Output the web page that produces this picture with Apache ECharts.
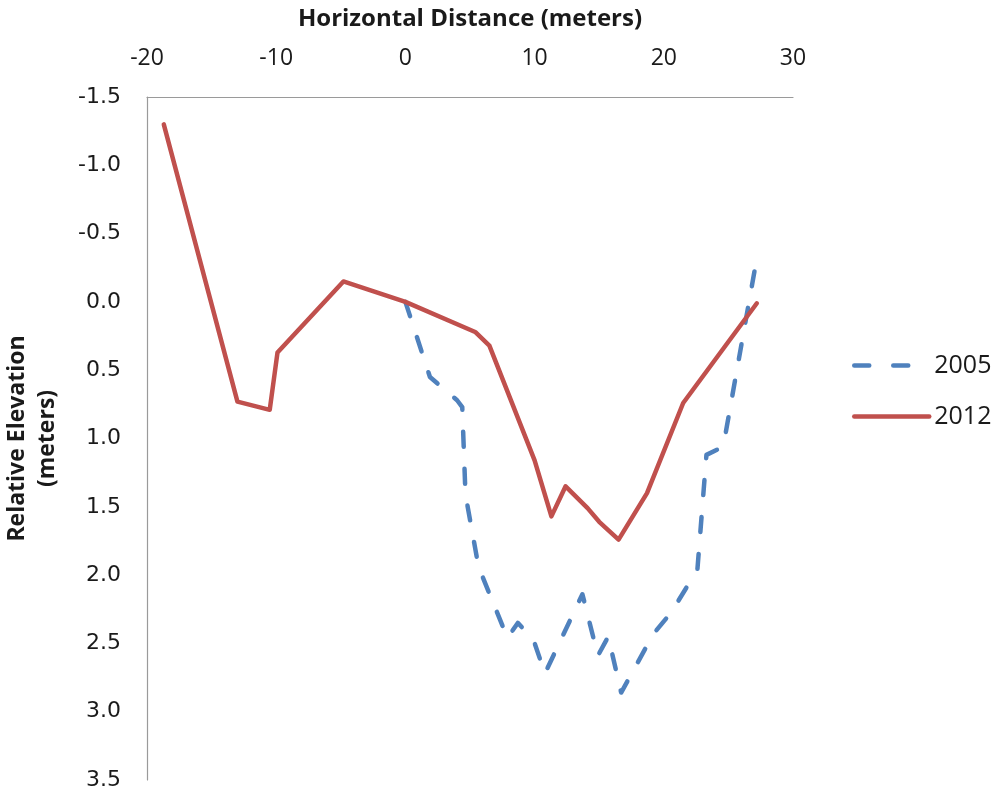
<!DOCTYPE html>
<html>
<head>
<meta charset="utf-8">
<script src="https://cdn.jsdelivr.net/npm/echarts@6/dist/echarts.min.js"></script>
<style>
  html, body { margin: 0; padding: 0; background: #fff; }
  #chart { width: 996px; height: 804px; }
</style>
</head>
<body>
<div id="chart"></div>
<script>
// Cross-section profile: horizontal distance vs relative elevation
const xTicks = [-20, -10, 0, 10, 20, 30];
const yTicks = [-1.5, -1.0, -0.5, 0.0, 0.5, 1.0, 1.5, 2.0, 2.5, 3.0, 3.5];

const dist2005 = [0, 1.9, 4.0, 4.4, 4.65, 5.66, 7.9, 8.7, 9.9, 10.8, 13.7, 14.9, 15.7, 16.7, 19.2, 20.6, 22.6, 23.3, 24.6, 27.2];
const elev2005 = [0, 0.55, 0.72, 0.77, 1.41, 1.94, 2.46, 2.35, 2.47, 2.72, 2.14, 2.59, 2.45, 2.86, 2.43, 2.27, 1.96, 1.12, 1.06, -0.32];

const dist2012 = [-18.7, -13.0, -10.5, -9.9, -4.8, 0, 5.4, 6.5, 10.0, 11.3, 12.4, 14.1, 15.0, 16.5, 18.7, 21.5, 27.2];
const elev2012 = [-1.3, 0.73, 0.79, 0.37, -0.15, 0, 0.22, 0.32, 1.16, 1.57, 1.35, 1.51, 1.61, 1.74, 1.40, 0.74, 0.01];

const seriesNames = ['2005', '2012'];
const colors = { '2005': '#4F81BD', '2012': '#C0504D' };
const dash2005 = [15, 22];
const dashLegend = [15, 24];

const pairs = (xs, ys) => xs.map((x, i) => [x, ys[i]]);

const chart = echarts.init(document.getElementById('chart'), null, { renderer: 'canvas' });

const textColor = '#1a1a1a';
const axisGray = '#9a9a9a';

chart.setOption({
  animation: false,
  backgroundColor: '#ffffff',
  grid: { left: 147, top: 97, right: 203, bottom: 24, containLabel: false, outerBoundsMode: 'none' },
  legend: {
    orient: 'vertical',
    left: 847,
    top: 348,
    itemWidth: 75,
    itemHeight: 14,
    itemGap: 26,
    data: [
      { name: seriesNames[0], itemStyle: { opacity: 0 }, lineStyle: { color: colors['2005'], width: 4.5, type: dashLegend, cap: 'round' } },
      { name: seriesNames[1], itemStyle: { opacity: 0 }, lineStyle: { color: colors['2012'], width: 4.5, type: 'solid', cap: 'round' } }
    ],
    textStyle: { fontFamily: '"Open Sans", sans-serif', fontSize: 25, color: textColor }
  },
  xAxis: {
    type: 'value',
    position: 'top',
    min: xTicks[0],
    max: xTicks[xTicks.length - 1],
    interval: 10,
    name: 'Horizontal Distance (meters)',
    nameLocation: 'middle',
    nameGap: 66,
    nameTextStyle: { fontFamily: '"Open Sans", sans-serif', fontWeight: 'bold', fontSize: 24, color: textColor },
    axisLine: { show: true, onZero: false, lineStyle: { color: axisGray, width: 1.2 } },
    axisTick: { show: false },
    splitLine: { show: false },
    axisLabel: {
      margin: 27,
      fontFamily: '"Open Sans", sans-serif',
      fontSize: 23,
      color: textColor,
      formatter: v => String(v)
    }
  },
  yAxis: {
    type: 'value',
    inverse: true,
    min: yTicks[0],
    max: yTicks[yTicks.length - 1],
    interval: 0.5,
    name: 'Relative Elevation\n(meters)',
    nameLocation: 'middle',
    nameGap: 85,
    nameRotate: 90,
    nameTextStyle: { fontFamily: '"Open Sans", sans-serif', fontWeight: 'bold', fontSize: 23, color: textColor, lineHeight: 30, align: 'center' },
    axisLine: { show: true, onZero: false, lineStyle: { color: axisGray, width: 1.2 } },
    axisTick: { show: false },
    splitLine: { show: false },
    axisLabel: {
      margin: 26,
      fontFamily: '"DejaVu Sans", sans-serif',
      fontSize: 22,
      color: textColor,
      padding: [3, 0, 0, 0],
      formatter: v => v.toFixed(1)
    }
  },
  series: [
    {
      name: seriesNames[0],
      type: 'line',
      data: pairs(dist2005, elev2005),
      showSymbol: false,
      symbol: 'none',
      color: colors['2005'],
      lineStyle: { color: colors['2005'], width: 4.5, type: dash2005, cap: 'round', join: 'round' },
      z: 2
    },
    {
      name: seriesNames[1],
      type: 'line',
      data: pairs(dist2012, elev2012),
      showSymbol: false,
      symbol: 'none',
      color: colors['2012'],
      lineStyle: { color: colors['2012'], width: 4.5, type: 'solid', cap: 'round', join: 'round' },
      z: 3
    }
  ]
});
</script>
</body>
</html>
